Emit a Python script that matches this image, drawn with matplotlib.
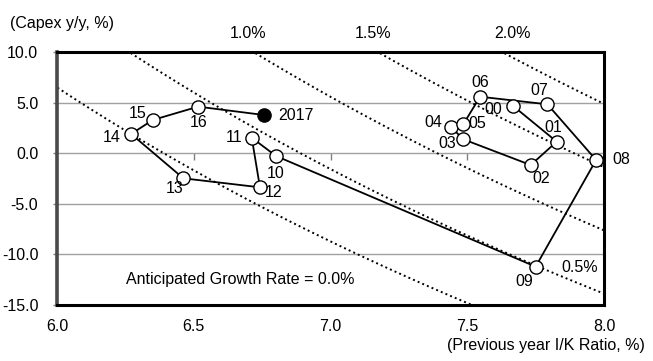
"""
Capital stock cycle: capex growth vs. previous-year I/K ratio, with
iso-lines for the anticipated growth rate.
"""

import numpy as np
import matplotlib.pyplot as plt
import matplotlib.transforms as mtransforms


# ============================ Data ============================
YEAR_LABELS = ['00', '01', '02', '03', '04', '05', '06', '07', '08', '09',
               '10', '11', '12', '13', '14', '15', '16', '2017']
IK_RATIO = [7.668, 7.827, 7.732, 7.486, 7.439, 7.486, 7.547, 7.793, 7.971, 7.750,
            6.801, 6.712, 6.742, 6.462, 6.271, 6.350, 6.516, 6.758]
CAPEX_YY = [4.66, 1.14, -1.17, 1.37, 2.62, 2.89, 5.58, 4.83, -0.67, -11.21,
            -0.28, 1.53, -3.37, -2.48, 1.90, 3.28, 4.60, 3.77]

# iso-lines: I/K(prev) * (1 + capex growth) = depreciation + anticipated growth
DEPRECIATION_RATE = 6.39
GROWTH_RATES = [0.0, 0.5, 1.0, 1.5, 2.0]
GROWTH_LABELS = ['1.0%', '1.5%', '2.0%']

# ============================ Layout / style ============================
FIG_SIZE = (6.53, 3.61)
DPI = 100
FONT = 'Liberation Sans'
FS_TEXT = 11.5
FS_TICK = 11.5

# label offsets in pixels (dx, dy) relative to each point
LABEL_OFFSETS = {
    '00': (-20, -3), '01': (-3, 14), '02': (10, -13), '03': (-16, -4),
    '04': (-17, 4), '05': (14, 0), '06': (0, 14), '07': (-8, 14),
    '08': (25, 0), '09': (-11, -15), '10': (0, -17), '11': (-18, 0),
    '12': (14, -5), '13': (-9, -10), '14': (-19, -4), '15': (-15, 7),
    '16': (0, -16),
}
GROWTH_LABEL_X = [6.698, 7.155, 7.667]

plt.rcParams['font.family'] = [FONT, 'DejaVu Sans']


def main():
    fig = plt.figure(figsize=FIG_SIZE, dpi=DPI)
    ax = fig.add_axes([0.0873, 0.155, 0.8377, 0.701])

    ax.set_xlim(6.0, 8.0)
    ax.set_ylim(-15.0, 10.0)

    # horizontal grid
    for y in (-10, -5, 0, 5):
        ax.axhline(y, color='#a0a0a0', linewidth=1.0, zorder=1)

    # dotted iso-growth curves
    xs = np.linspace(5.5, 8.5, 400)
    for g in GROWTH_RATES:
        ys = ((DEPRECIATION_RATE + g) / xs - 1.0) * 100.0
        ax.plot(xs, ys, color='black', linewidth=1.4,
                linestyle=(0, (1, 1.6)), zorder=2)

    # trajectory
    ax.plot(IK_RATIO, CAPEX_YY, color='black', linewidth=1.3, zorder=3)
    ax.plot(IK_RATIO[:-1], CAPEX_YY[:-1], linestyle='none', marker='o',
            markersize=9.5, markerfacecolor='white', markeredgecolor='black',
            markeredgewidth=1.0, zorder=4)
    ax.plot(IK_RATIO[-1:], CAPEX_YY[-1:], linestyle='none', marker='o',
            markersize=9.5, markerfacecolor='black', markeredgecolor='black',
            zorder=4)

    for lab, x, y in zip(YEAR_LABELS, IK_RATIO, CAPEX_YY):
        if lab == '2017':
            ax.annotate(lab, (x, y), xytext=(14, 0), textcoords='offset pixels',
                        ha='left', va='center', fontsize=FS_TEXT, zorder=5)
            continue
        dx, dy = LABEL_OFFSETS[lab]
        ax.annotate(lab, (x, y), xytext=(dx, dy), textcoords='offset pixels',
                    ha='center', va='center', fontsize=FS_TEXT, zorder=5)

    # growth-rate labels above the frame
    trans = mtransforms.blended_transform_factory(ax.transData, ax.transAxes)
    for lab, x in zip(GROWTH_LABELS, GROWTH_LABEL_X):
        ax.text(x, 1.075, lab, transform=trans, ha='center', va='center',
                fontsize=FS_TEXT)
    ax.text(7.912, -11.27, '0.5%', ha='center', va='center', fontsize=FS_TEXT)
    ax.text(6.671, -12.43, 'Anticipated Growth Rate = 0.0%',
            ha='center', va='center', fontsize=FS_TEXT)

    # ticks
    ax.set_yticks([10, 5, 0, -5, -10, -15])
    ax.set_yticklabels(['10.0', '5.0', '0.0', '-5.0', '-10.0', '-15.0'])
    ax.set_xticks([6.0, 6.5, 7.0, 7.5, 8.0])
    ax.set_xticklabels(['6.0', '6.5', '7.0', '7.5', '8.0'])
    ax.tick_params(axis='y', direction='out', length=3, width=1.0,
                   color='#808080', pad=10.5, labelsize=FS_TICK)
    ax.tick_params(axis='x', length=0, pad=10, labelsize=FS_TICK)

    # small ticks on the zero line
    zero_ax = ax.secondary_xaxis(0.6)
    zero_ax.set_xticks([6.5, 7.0, 7.5])
    zero_ax.set_xticklabels([])
    zero_ax.tick_params(direction='in', length=5, width=1.0, color='#808080')
    zero_ax.spines['bottom'].set_visible(False)
    zero_ax.spines['top'].set_visible(False)

    for side in ('top', 'right', 'bottom'):
        ax.spines[side].set_linewidth(2.2)
        ax.spines[side].set_color('black')
    ax.spines['left'].set_linewidth(2.6)
    ax.spines['left'].set_color('#4a4a4a')

    fig.text(0.0153, 0.936, '(Capex y/y, %)', ha='left', va='center',
             fontsize=FS_TEXT)
    fig.text(0.988, 0.0443, '(Previous year I/K Ratio, %)', ha='right',
             va='center', fontsize=FS_TEXT)

    fig.savefig('out.png', dpi=DPI)
    plt.close(fig)


if __name__ == '__main__':
    main()
